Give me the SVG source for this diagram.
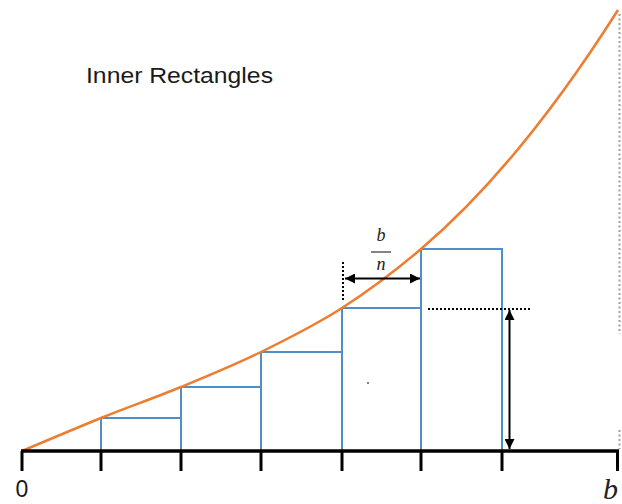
<svg xmlns="http://www.w3.org/2000/svg" width="622" height="504" viewBox="0 0 622 504">
<style>
.rect{fill:none;stroke:#4f8fc8;stroke-width:2}
.axis{stroke:#000;stroke-width:3.5;fill:none}
.tick{stroke:#000;stroke-width:3}
.dot{stroke:#000;stroke-width:2;stroke-dasharray:2 2;fill:none}
.gdot{stroke:#a0a0a0;stroke-width:2;stroke-dasharray:2 2.5;fill:none}
.arr{stroke:#000;stroke-width:2;fill:none;marker-start:url(#ah);marker-end:url(#ah)}
.lbl{font-family:"Liberation Sans",Arial,sans-serif;fill:#1a1a1a}
.math{font-family:"Liberation Serif","DejaVu Serif",serif;font-style:italic;fill:#222}
</style>
<defs>
<marker id="ah" viewBox="0 0 10 10" refX="10" refY="5" markerWidth="5" markerHeight="5" orient="auto-start-reverse" markerUnits="strokeWidth">
<path d="M0,0 L10,5 L0,10 z" fill="#000"/>
</marker>
</defs>
<rect width="622" height="504" fill="#fff"/>
<g id="title"><text class="lbl" x="86" y="83" font-size="22" textLength="187" lengthAdjust="spacingAndGlyphs">Inner Rectangles</text></g>
<g id="guide-b"><line class="gdot" x1="619.5" y1="14" x2="619.5" y2="334"/><line class="gdot" x1="619.5" y1="430" x2="619.5" y2="449"/></g>
<g id="rect1"><rect class="rect" x="101" y="418" width="80" height="33"/></g>
<g id="rect2"><rect class="rect" x="181" y="387" width="80" height="64"/></g>
<g id="rect3"><rect class="rect" x="261" y="352" width="81" height="99"/></g>
<g id="rect4"><rect class="rect" x="342" y="308" width="79" height="143"/></g>
<g id="rect5"><rect class="rect" x="421" y="249" width="81" height="202"/></g>
<g id="curve"><path d="M22,451 C35.2,445.5 74.5,428.7 101,418 C127.5,407.3 154.3,398 181,387 C207.7,376 234.2,365.2 261,352 C287.8,338.8 315.3,325.2 342,308 C368.7,290.8 396.8,269.6 421,249 Q519.5,165.3 618,10" fill="none" stroke="#ed7d31" stroke-width="2.5"/></g>
<g id="axis">
<line class="axis" x1="21" y1="451" x2="619" y2="451"/>
<line class="tick" x1="22" y1="451" x2="22" y2="471"/>
<line class="tick" x1="101" y1="451" x2="101" y2="471"/>
<line class="tick" x1="181" y1="451" x2="181" y2="471"/>
<line class="tick" x1="261" y1="451" x2="261" y2="471"/>
<line class="tick" x1="342" y1="451" x2="342" y2="471"/>
<line class="tick" x1="421" y1="451" x2="421" y2="471"/>
<line class="tick" x1="502" y1="451" x2="502" y2="471"/>
<line class="tick" x1="617.5" y1="451" x2="617.5" y2="471"/>
</g>
<g id="label-0"><text class="lbl" x="22" y="497" font-size="23" text-anchor="middle">0</text></g>
<g id="label-b"><text class="math" x="603" y="499" font-size="30">b</text></g>
<g id="label-bn">
<text class="math" x="381" y="241" font-size="18" text-anchor="middle">b</text>
<line x1="371" y1="252" x2="391" y2="252" stroke="#333" stroke-width="1.2"/>
<text class="math" x="381" y="270" font-size="18" text-anchor="middle">n</text>
</g>
<circle cx="368" cy="383" r="1" fill="#555"/>
<g id="connectors">
<line class="dot" x1="343" y1="262" x2="343" y2="300"/>
<line class="dot" x1="428" y1="309" x2="530" y2="309"/>
<line class="arr" x1="345" y1="278.5" x2="420" y2="278.5"/>
<line class="arr" x1="509.5" y1="310" x2="509.5" y2="449"/>
</g>
</svg>
